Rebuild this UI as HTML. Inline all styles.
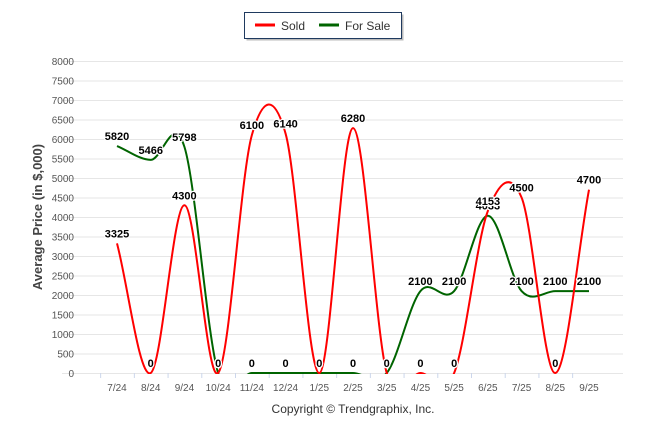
<!DOCTYPE html>
<html><head><meta charset="utf-8"><style>
body{margin:0;background:#fff;font-family:"Liberation Sans",Arial,sans-serif}
svg text{font-family:"Liberation Sans",Arial,sans-serif}
</style></head><body>
<svg id="c" width="646" height="434">
<defs><clipPath id="plotclip"><rect x="60" y="40" width="570" height="334"/></clipPath></defs>
<g>
<rect x="246.5" y="14.5" width="157" height="26" fill="#777" opacity="0.5"/>
<rect x="244.5" y="12.5" width="157" height="26" fill="#fff" stroke="#1f3a5f" stroke-width="1"/>
<line x1="255" y1="25" x2="275" y2="25" stroke="#f00" stroke-width="3"/>
<text x="281" y="30" font-size="12" fill="#333">Sold</text>
<line x1="319" y1="25" x2="339" y2="25" stroke="#006400" stroke-width="3"/>
<text x="345" y="30" font-size="12" fill="#333">For Sale</text>
</g>
<g id="grid"></g>
<g id="axes"></g>
<g id="series" clip-path="url(#plotclip)"></g>
<g id="labels"></g>
<text transform="translate(42,217) rotate(-90)" text-anchor="middle" font-size="13" font-weight="bold" fill="#444">Average Price (in $,000)</text>
<text x="353" y="413" text-anchor="middle" font-size="12" fill="#333">Copyright © Trendgraphix, Inc.</text>
</svg>
<script>
const categories=["7/24","8/24","9/24","10/24","11/24","12/24","1/25","2/25","3/25","4/25","5/25","6/25","7/25","8/25","9/25"];
const sold=[3325,0,4300,0,6100,6140,0,6280,0,0,0,4153,4500,0,4700];
const forSale=[5820,5466,5798,0,0,0,0,0,0,2100,2100,4033,2100,2100,2100];
const yTicks=[0,500,1000,1500,2000,2500,3000,3500,4000,4500,5000,5500,6000,6500,7000,7500,8000];
const NS="http://www.w3.org/2000/svg";
const x0=117,x1=589,yb=373,yt=61,ymax=8000;
const X=i=>x0+i*(x1-x0)/(categories.length-1);
const Y=v=>yb-v*(yb-yt)/ymax;
function mk(tag,attrs,parent){const e=document.createElementNS(NS,tag);for(const k in attrs)e.setAttribute(k,attrs[k]);document.getElementById(parent).appendChild(e);return e;}
yTicks.forEach(t=>{
  const l=mk('line',{x1:62,x2:623,y1:Y(t)+0.5,y2:Y(t)+0.5,stroke:'#e6e6e6','stroke-width':1},'grid');
  
  
  const tx=mk('text',{x:74,y:Y(t)+4,'text-anchor':'end','font-size':10,fill:'#555'},'axes');
  tx.textContent=t;
  
  
});
const dx=(x1-x0)/(categories.length-1);
categories.forEach((c,i)=>{
  const tk=mk('line',{x1:X(i)-dx/2+0.5,x2:X(i)-dx/2+0.5,y1:yb,y2:yb+5,stroke:'#ccd6eb'},'axes');
  
  
  const tx=mk('text',{x:X(i),y:yb+18,'text-anchor':'middle','font-size':10,fill:'#555'},'axes');
  tx.textContent=c;
  
  
});
function spline(vals){
  const p=vals.map((v,i)=>[X(i),Y(v)]);
  const n=p.length;
  const m=p.map((pt,i)=>{
    const a=p[Math.max(0,i-1)],b=p[Math.min(n-1,i+1)];
    const k=(i===0||i===n-1)?1:0.5;
    return [(b[0]-a[0])*k,(b[1]-a[1])*k];
  });
  let d='M'+p[0][0]+' '+p[0][1];
  for(let i=1;i<n;i++){
    const a=p[i-1],b=p[i];
    d+=` C${a[0]+m[i-1][0]/3} ${a[1]+m[i-1][1]/3} ${b[0]-m[i][0]/3} ${b[1]-m[i][1]/3} ${b[0]} ${b[1]}`;
  }
  return d;
}
const g=mk('path',{d:spline(forSale),fill:'none',stroke:'#006400','stroke-width':2},'series');


const r=mk('path',{d:spline(sold),fill:'none',stroke:'#f00','stroke-width':2},'series');


function lab(vals,name){
  vals.forEach((v,i)=>{
    const t=mk('text',{x:X(i),y:Y(v)-6,'text-anchor':'middle','font-size':11,'font-weight':'bold',fill:'#000',stroke:'#fff','stroke-width':2.5,'paint-order':'stroke','stroke-linejoin':'round'},'labels');
    t.textContent=v;
    
    
  });
}
lab(forSale,'for-sale-value-label');
lab(sold,'sold-value-label');
</script>
</body></html>
